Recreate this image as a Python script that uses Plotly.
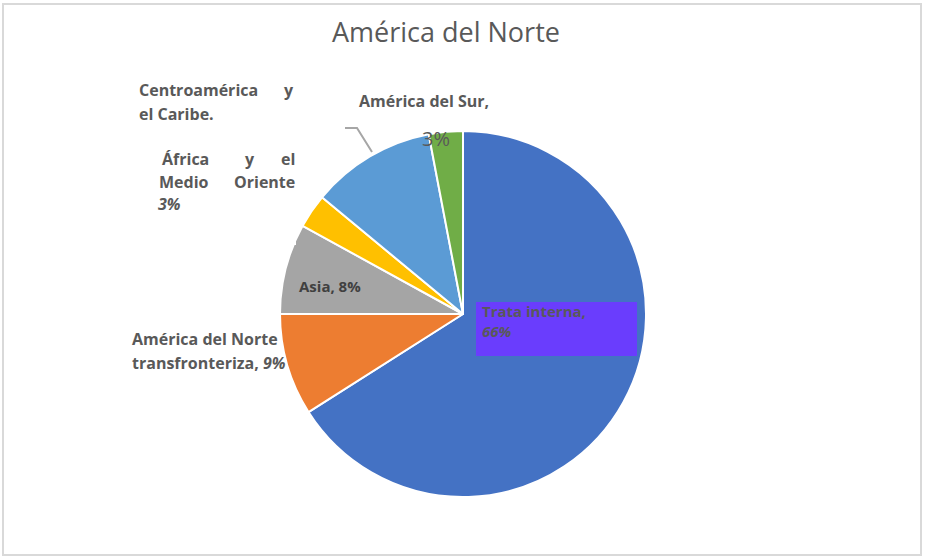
import plotly.graph_objects as go

categories = ["Trata interna", "América del Norte transfronteriza", "Asia",
              "África y el Medio Oriente", "Centroamérica y el Caribe", "América del Sur"]
values = [66, 9, 8, 3, 11, 3]
colors = ["#4472C4", "#ED7D31", "#A5A5A5", "#FFC000", "#5B9BD5", "#70AD47"]
title_text = "América del Norte"

W, H = 925, 558
cx, cy, r = 463, 314, 183

def px(x):
    return x / W

def py(y):
    return 1 - y / H

fig = go.Figure()
fig.add_trace(go.Pie(
    labels=categories, values=values, sort=False, direction="clockwise", rotation=0,
    marker=dict(colors=colors, line=dict(color="white", width=2)),
    textinfo="none", hoverinfo="label+percent", showlegend=False,
    domain=dict(x=[px(cx - r), px(cx + r)], y=[py(cy + r), py(cy - r)]),
))

FONT = "Open Sans, sans-serif"
GRAY = "#595959"

def ann(x, y, text, size=16, color=GRAY, xanchor="left", bold=True):
    t = f"<b>{text}</b>" if bold else text
    fig.add_annotation(x=px(x), y=py(y), xref="paper", yref="paper", text=t,
                       showarrow=False, xanchor=xanchor, yanchor="middle",
                       font=dict(family=FONT, size=size, color=color), align="left")

shapes = [
    dict(type="rect", xref="paper", yref="paper", x0=px(3), x1=px(921), y0=py(555), y1=py(4),
         line=dict(color="#D9D9D9", width=2), fillcolor="rgba(0,0,0,0)", layer="below"),
    dict(type="rect", xref="paper", yref="paper", x0=px(268), x1=px(296), y0=py(245), y1=py(215),
         line=dict(width=0), fillcolor="white", layer="above"),
    dict(type="rect", xref="paper", yref="paper", x0=px(476), x1=px(637), y0=py(356), y1=py(302),
         line=dict(width=0), fillcolor="#6A3DFD", layer="above"),
    dict(type="path", xref="paper", yref="paper",
         path=f"M {px(345)} {py(128)} L {px(357)} {py(128)} L {px(372)} {py(152)}",
         line=dict(color="#A6A6A6", width=2), layer="above"),
]

# title
fig.add_annotation(x=px(446), y=py(32), xref="paper", yref="paper", text=title_text,
                   showarrow=False, xanchor="center", yanchor="middle",
                   font=dict(family=FONT, size=27, color=GRAY))

# Centroamérica y el Caribe
ann(137, 90, "Centroamérica")
ann(296, 90, "y", xanchor="right")
ann(137, 114, "el Caribe.")
# América del Sur
ann(357, 101, "América del Sur,")
ann(420, 138, "3%", size=20, bold=False)
# África y el Medio Oriente
ann(160, 159, "África")
ann(250, 159, "y", xanchor="center")
ann(297, 159, "el", xanchor="right")
ann(157, 182, "Medio")
ann(297, 182, "Oriente", xanchor="right")
ann(156, 204, "<i>3%</i>")
# Asia
ann(297, 286, "Asia, 8%", color="#404040", size=15)
# América del Norte transfronteriza
ann(130, 339, "América del Norte")
ann(130, 363, "transfronteriza, <i>9%</i>")
# Trata interna
ann(480, 321, "Trata interna,<br><i>66%</i>", size=15)

fig.update_layout(width=W, height=H, margin=dict(l=0, r=0, t=0, b=0),
                  paper_bgcolor="white", plot_bgcolor="white", shapes=shapes)

fig.write_html("out.html", config={"displayModeBar": False},
               post_script="document.body.style.margin='0';document.body.style.overflow='hidden';")
